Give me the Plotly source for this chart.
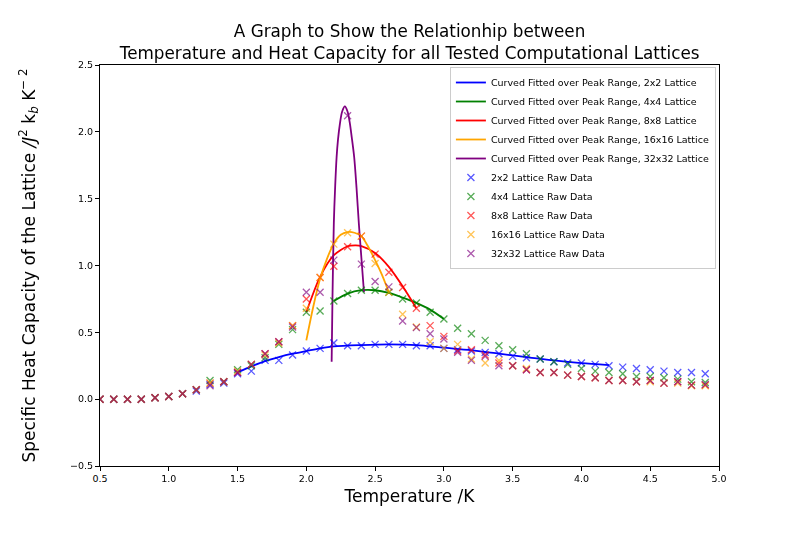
import plotly.graph_objects as go

# ---------------- data ----------------
temps = [0.5, 0.6, 0.7, 0.8, 0.9, 1.0, 1.1, 1.2, 1.3, 1.4, 1.5, 1.6, 1.7, 1.8, 1.9,
         2.0, 2.1, 2.2, 2.3, 2.4, 2.5, 2.6, 2.7, 2.8, 2.9, 3.0, 3.1, 3.2, 3.3, 3.4,
         3.5, 3.6, 3.7, 3.8, 3.9, 4.0, 4.1, 4.2, 4.3, 4.4, 4.5, 4.6, 4.7, 4.8, 4.9]

c_2x2 = [0.0, 0.0, 0.0, 0.0, 0.01, 0.02, 0.04, 0.06, 0.11, 0.12, 0.19, 0.21, 0.29, 0.29, 0.33,
         0.36, 0.38, 0.42, 0.40, 0.40, 0.41, 0.41, 0.41, 0.40, 0.40, 0.38, 0.37, 0.36, 0.35, 0.34,
         0.32, 0.31, 0.30, 0.28, 0.27, 0.27, 0.26, 0.25, 0.24, 0.23, 0.22, 0.21, 0.20, 0.20, 0.19]
c_4x4 = [0.0, 0.0, 0.0, 0.0, 0.01, 0.02, 0.04, 0.07, 0.14, 0.13, 0.22, 0.25, 0.31, 0.41, 0.52,
         0.65, 0.66, 0.735, 0.79, 0.815, 0.815, 0.80, 0.75, 0.72, 0.65, 0.60, 0.53, 0.49, 0.44, 0.40,
         0.37, 0.34, 0.30, 0.28, 0.26, 0.23, 0.21, 0.20, 0.19, 0.17, 0.17, 0.16, 0.15, 0.13, 0.125]
c_8x8 = [0.0, 0.0, 0.0, 0.0, 0.01, 0.02, 0.04, 0.07, 0.12, 0.13, 0.20, 0.26, 0.34, 0.43, 0.55,
         0.75, 0.91, 0.995, 1.14, 1.22, 1.085, 0.95, 0.835, 0.68, 0.55, 0.47, 0.36, 0.37, 0.33, 0.27,
         0.25, 0.22, 0.20, 0.20, 0.18, 0.17, 0.16, 0.14, 0.14, 0.13, 0.14, 0.12, 0.13, 0.105, 0.105]
c_16x16 = [0.0, 0.0, 0.0, 0.0, 0.01, 0.02, 0.04, 0.07, 0.12, 0.13, 0.21, 0.26, 0.33, 0.42, 0.55,
           0.68, 0.91, 1.16, 1.245, 1.22, 1.015, 0.80, 0.635, 0.54, 0.43, 0.38, 0.41, 0.30, 0.27, 0.29,
           0.25, 0.23, 0.20, 0.20, 0.18, 0.17, 0.16, 0.14, 0.14, 0.13, 0.13, 0.12, 0.12, 0.10, 0.10]
c_32x32 = [0.0, 0.0, 0.0, 0.0, 0.01, 0.02, 0.04, 0.07, 0.10, 0.13, 0.20, 0.26, 0.34, 0.43, 0.54,
           0.80, 0.80, 1.04, 2.12, 1.01, 0.88, 0.84, 0.585, 0.535, 0.49, 0.45, 0.35, 0.29, 0.32, 0.25,
           0.25, 0.22, 0.20, 0.20, 0.18, 0.17, 0.16, 0.14, 0.14, 0.13, 0.14, 0.12, 0.13, 0.105, 0.11]

fit_2x2_t = [1.5, 1.6, 1.7, 1.8, 1.9, 2.0, 2.1, 2.2, 2.4, 2.6, 2.8, 3.0, 3.2, 3.4, 3.6, 3.8, 4.0, 4.2]
fit_2x2_c = [0.20, 0.245, 0.285, 0.315, 0.34, 0.36, 0.38, 0.395, 0.405, 0.41, 0.405, 0.385, 0.365,
             0.34, 0.315, 0.29, 0.27, 0.255]
fit_4x4_t = [2.2, 2.3, 2.4, 2.5, 2.6, 2.7, 2.8, 2.9, 3.0]
fit_4x4_c = [0.735, 0.79, 0.815, 0.815, 0.795, 0.76, 0.72, 0.67, 0.60]
fit_8x8_t = [2.0, 2.1, 2.2, 2.3, 2.36, 2.4, 2.5, 2.6, 2.7, 2.8]
fit_8x8_c = [0.65, 0.915, 1.077, 1.144, 1.15, 1.145, 1.094, 0.99, 0.845, 0.68]
fit_16x16_t = [2.0, 2.05, 2.1, 2.15, 2.2, 2.25, 2.3, 2.35, 2.4, 2.45, 2.5, 2.55, 2.6]
fit_16x16_c = [0.44, 0.69, 0.90, 1.05, 1.165, 1.23, 1.25, 1.245, 1.22, 1.14, 1.04, 0.93, 0.80]
fit_32x32_t = [2.184, 2.19, 2.20, 2.21, 2.22, 2.23, 2.244, 2.26, 2.28, 2.30, 2.317, 2.33,
               2.348, 2.365, 2.382, 2.40, 2.419]
fit_32x32_c = [0.28, 0.75, 1.32, 1.60, 1.81, 1.94, 2.06, 2.15, 2.19, 2.15, 2.06, 1.96,
               1.81, 1.58, 1.31, 1.06, 0.80]

lattices = ["2x2", "4x4", "8x8", "16x16", "32x32"]
colors = ["#0000ff", "#008000", "#ff0000", "#ffa500", "#800080"]
raw = [c_2x2, c_4x4, c_8x8, c_16x16, c_32x32]
fits = [(fit_2x2_t, fit_2x2_c), (fit_4x4_t, fit_4x4_c), (fit_8x8_t, fit_8x8_c),
        (fit_16x16_t, fit_16x16_c), (fit_32x32_t, fit_32x32_c)]

x_ticks = [0.5, 1.0, 1.5, 2.0, 2.5, 3.0, 3.5, 4.0, 4.5, 5.0]
y_ticks = [-0.5, 0.0, 0.5, 1.0, 1.5, 2.0, 2.5]

# ---------------- figure ----------------
fig = go.Figure()
for name, col, (ft, fc) in zip(lattices, colors, fits):
    fig.add_trace(go.Scatter(
        x=ft, y=fc, mode="lines", line=dict(color=col, width=1.8, shape="spline", smoothing=0.8),
        name=f"Curved Fitted over Peak Range, {name} Lattice"))
for name, col, vals in zip(lattices, colors, raw):
    fig.add_trace(go.Scatter(
        x=temps, y=vals, mode="markers",
        marker=dict(symbol="x-thin", size=7, line=dict(color=col, width=1.3), color=col),
        opacity=0.65, name=f"{name} Lattice Raw Data"))

font = "DejaVu Sans"
fig.update_layout(
    width=800, height=533,
    margin=dict(l=100, r=81, t=65, b=67),
    paper_bgcolor="white", plot_bgcolor="white",
    font=dict(family=font, color="black"),
    title=dict(
        text="A Graph to Show the Relationhip between<br>Temperature and Heat Capacity for all Tested Computational Lattices",
        x=0.512, xanchor="center", y=0.93, yanchor="middle",
        font=dict(size=16.8, family=font, color="black")),
    showlegend=True,
    legend=dict(x=0.995, xanchor="right", y=0.995, yanchor="top",
                bgcolor="rgba(255,255,255,0.8)", bordercolor="#cccccc", borderwidth=1,
                font=dict(size=9.5, family=font), itemwidth=30, tracegroupgap=0),
)
fig.update_xaxes(
    range=[0.5, 5.0], tickvals=x_ticks, tickformat=".1f",
    showgrid=False, zeroline=False, showline=True, linecolor="black", linewidth=1, mirror=True,
    ticks="outside", ticklen=4, tickcolor="black", tickfont=dict(size=9.5, family=font),
    title=dict(text="Temperature /K", font=dict(size=17, family=font), standoff=6))
fig.update_yaxes(
    range=[-0.5, 2.5], tickvals=y_ticks, tickformat=".1f",
    showgrid=False, zeroline=False, showline=True, linecolor="black", linewidth=1, mirror=True,
    ticks="outside", ticklen=4, tickcolor="black", tickfont=dict(size=9.5, family=font),
    title=dict(text="Specific Heat Capacity of the Lattice <i>/J</i><sup>2</sup> k<sub><i>b</i></sub> K<sup>\u2212 2</sup>",
               font=dict(size=17, family=font), standoff=30))

fig.write_html("out.html")
